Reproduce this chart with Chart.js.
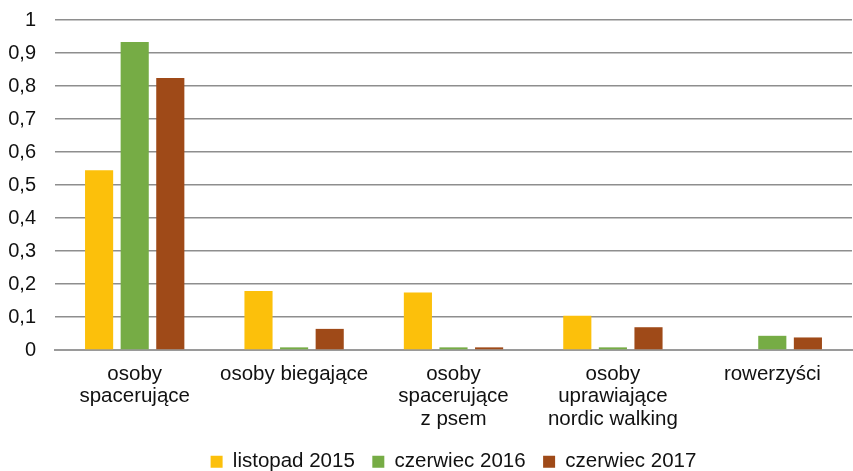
<!DOCTYPE html>
<html>
<head>
<meta charset="utf-8">
<script src="https://cdn.jsdelivr.net/npm/chart.js@4/dist/chart.umd.min.js"></script>
<style>
  html, body { margin: 0; padding: 0; background: #fff; }
  #wrap { width: 853px; height: 471px; }
</style>
</head>
<body>
<div id="wrap"><canvas id="chart"></canvas></div>
<script>
var categories = [
  ["osoby", "spacerujące"],
  "osoby biegające",
  ["osoby", "spacerujące", "z psem"],
  ["osoby", "uprawiające", "nordic walking"],
  "rowerzyści"
];
var seriesNames = ["listopad 2015", "czerwiec 2016", "czerwiec 2017"];
var listopad2015 = [0.545, 0.179, 0.174, 0.104, 0];
var czerwiec2016 = [0.933, 0.008, 0.008, 0.008, 0.043];
var czerwiec2017 = [0.824, 0.064, 0.008, 0.069, 0.038];
var colors = ["#FCC00B", "#76AC45", "#9F4A18"];

var font = "'Liberation Sans', Arial, sans-serif";
Chart.defaults.font.family = font;
Chart.defaults.color = "#111";

var ctx = document.getElementById("chart");
new Chart(ctx, {
  type: "bar",
  data: {
    labels: categories,
    datasets: [
      { label: seriesNames[0], data: listopad2015, backgroundColor: colors[0] },
      { label: seriesNames[1], data: czerwiec2016, backgroundColor: colors[1] },
      { label: seriesNames[2], data: czerwiec2017, backgroundColor: colors[2] }
    ]
  },
  options: {
    responsive: true,
    maintainAspectRatio: false,
    animation: false,
    devicePixelRatio: 1,
    categoryPercentage: 0.67,
    barPercentage: 0.79,
    layout: { padding: { top: 0, right: 1, left: 0, bottom: 0 } },
    plugins: {
      tooltip: { enabled: false },
      legend: {
        position: "bottom",
        fullSize: false,
        maxHeight: 37,
        labels: {
          boxWidth: 12,
          boxHeight: 12,
          padding: 17.5,
          font: { size: 20.5 },
          color: "#111"
        }
      }
    },
    scales: {
      x: {
        grid: { display: false, drawTicks: false },
        border: { display: true, color: "#9a9a9a", width: 2 },
        ticks: {
          font: { size: 20.5, lineHeight: 1.1 },
          color: "#111",
          padding: 13,
          maxRotation: 0,
          autoSkip: false
        },
        afterFit: function(scale) { scale.height = 84; }
      },
      y: {
        min: 0,
        max: 1,
        border: { display: false },
        grid: { color: "#8e8e8e", lineWidth: 1.4, drawTicks: false },
        ticks: {
          stepSize: 0.1,
          padding: 19,
          font: { size: 20, lineHeight: 0.1 },
          color: "#111",
          callback: function(v) {
            return (Math.round(v * 10) / 10).toString().replace(".", ",");
          }
        },
        afterFit: function(scale) { scale.width = 55; }
      }
    }
  }
});
</script>
</body>
</html>
